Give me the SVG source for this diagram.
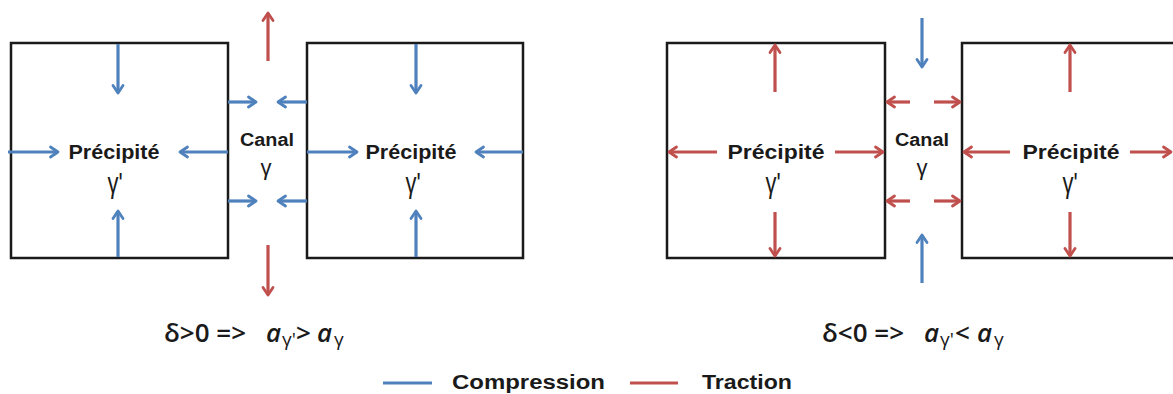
<svg xmlns="http://www.w3.org/2000/svg" width="1173" height="394" viewBox="0 0 1173 394">
<defs>
<style>
.box{fill:#fff;stroke:#1a1a1a;stroke-width:2.5}
.b{stroke:#4F81BD;stroke-width:3.2;fill:none}
.r{stroke:#C0504D;stroke-width:3.2;fill:none}
.ab{marker-end:url(#hb)}
.ar{marker-end:url(#hr)}
.lbl{font-family:"Liberation Sans",Arial,sans-serif;font-weight:bold;fill:#1a1a1a}
.gam{font-family:"Liberation Sans",Arial,sans-serif;fill:#1a1a1a}
.f{font-family:"Open Sans","Noto Sans",sans-serif;font-weight:600;fill:#1a1a1a;font-size:26px}
.sub{font-size:19px;font-weight:400}
</style>
<marker id="hb" viewBox="0 0 14 14" refX="11" refY="7" markerWidth="14" markerHeight="14" markerUnits="userSpaceOnUse" orient="auto">
<path d="M3.5,2 L11,7 L3.5,12" fill="none" stroke="#4F81BD" stroke-width="2.8" stroke-linecap="round" stroke-linejoin="round"/>
</marker>
<marker id="hr" viewBox="0 0 14 14" refX="11" refY="7" markerWidth="14" markerHeight="14" markerUnits="userSpaceOnUse" orient="auto">
<path d="M3.5,2 L11,7 L3.5,12" fill="none" stroke="#C0504D" stroke-width="2.8" stroke-linecap="round" stroke-linejoin="round"/>
</marker>
</defs>
<rect width="1173" height="394" fill="#fff"/>

<g id="box1">
<rect class="box" x="11" y="43" width="217" height="215"/>
<text class="lbl" x="114" y="159" font-size="20" text-anchor="middle" textLength="91" lengthAdjust="spacingAndGlyphs">Précipité</text>
<text class="gam" transform="translate(115,193) scale(1,1.3)" font-size="22" text-anchor="middle">γ'</text>
</g>
<g id="box2">
<rect class="box" x="307" y="43" width="216" height="215"/>
<text class="lbl" x="411" y="159" font-size="20" text-anchor="middle" textLength="91" lengthAdjust="spacingAndGlyphs">Précipité</text>
<text class="gam" transform="translate(413,193) scale(1,1.3)" font-size="22" text-anchor="middle">γ'</text>
</g>
<g id="canal1">
<text class="lbl" x="267" y="146" font-size="18" text-anchor="middle" textLength="54" lengthAdjust="spacingAndGlyphs">Canal</text>
<text class="gam" x="266" y="175" font-size="22" text-anchor="middle">γ</text>
</g>
<g id="box3">
<rect class="box" x="667" y="43" width="218" height="215"/>
<text class="lbl" x="776" y="159" font-size="20" text-anchor="middle" textLength="97" lengthAdjust="spacingAndGlyphs">Précipité</text>
<text class="gam" transform="translate(773,193) scale(1,1.3)" font-size="22" text-anchor="middle">γ'</text>
</g>
<g id="box4">
<rect class="box" x="962" y="43" width="218" height="215"/>
<text class="lbl" x="1071" y="159" font-size="20" text-anchor="middle" textLength="97" lengthAdjust="spacingAndGlyphs">Précipité</text>
<text class="gam" transform="translate(1070,193) scale(1,1.3)" font-size="22" text-anchor="middle">γ'</text>
</g>
<g id="canal2">
<text class="lbl" x="922" y="146" font-size="18" text-anchor="middle" textLength="54" lengthAdjust="spacingAndGlyphs">Canal</text>
<text class="gam" x="922" y="175" font-size="22" text-anchor="middle">γ</text>
</g>

<g id="connectors">
<line class="b ab" x1="118" y1="44" x2="118" y2="93"/>
<line class="b ab" x1="118" y1="257" x2="118" y2="211"/>
<line class="b ab" x1="8" y1="152" x2="58" y2="152"/>
<line class="b ab" x1="228" y1="152" x2="180" y2="152"/>
<line class="b ab" x1="416" y1="44" x2="416" y2="93"/>
<line class="b ab" x1="416" y1="257" x2="416" y2="211"/>
<line class="b ab" x1="307" y1="152" x2="357" y2="152"/>
<line class="b ab" x1="523" y1="152" x2="476" y2="152"/>
<line class="b ab" x1="228" y1="102" x2="256" y2="102"/>
<line class="b ab" x1="307" y1="102" x2="278" y2="102"/>
<line class="b ab" x1="228" y1="201" x2="256" y2="201"/>
<line class="b ab" x1="307" y1="201" x2="278" y2="201"/>
<line class="r ar" x1="268" y1="61" x2="268" y2="13"/>
<line class="r ar" x1="268" y1="245" x2="268" y2="295"/>
<line class="r ar" x1="775" y1="92" x2="775" y2="45"/>
<line class="r ar" x1="775" y1="212" x2="775" y2="256"/>
<line class="r ar" x1="717" y1="152" x2="669" y2="152"/>
<line class="r ar" x1="835" y1="152" x2="883" y2="152"/>
<line class="r ar" x1="1070" y1="92" x2="1070" y2="45"/>
<line class="r ar" x1="1070" y1="212" x2="1070" y2="256"/>
<line class="r ar" x1="1010" y1="152" x2="964" y2="152"/>
<line class="r ar" x1="1130" y1="152" x2="1171" y2="152"/>
<line class="r ar" x1="910" y1="102" x2="887" y2="102"/>
<line class="r ar" x1="934" y1="102" x2="960" y2="102"/>
<line class="r ar" x1="910" y1="201" x2="887" y2="201"/>
<line class="r ar" x1="934" y1="201" x2="960" y2="201"/>
<line class="b ab" x1="922" y1="18" x2="922" y2="67"/>
<line class="b ab" x1="922" y1="283" x2="922" y2="235"/>
</g>

<g id="formula1">
<text class="f" y="342"><tspan x="164">δ&gt;0 =&gt;</tspan><tspan x="266" font-style="italic">a</tspan><tspan class="sub" x="282" y="346">γ'</tspan><tspan x="296" y="342">&gt;</tspan><tspan x="317" font-style="italic">a</tspan><tspan class="sub" x="334" y="346">γ</tspan></text>
</g>
<g id="formula2">
<text class="f" y="342"><tspan x="822">δ&lt;0 =&gt;</tspan><tspan x="924" font-style="italic">a</tspan><tspan class="sub" x="940" y="346">γ'</tspan><tspan x="955" y="342">&lt;</tspan><tspan x="977" font-style="italic">a</tspan><tspan class="sub" x="994" y="346">γ</tspan></text>
</g>

<g id="legend">
<line x1="383" y1="383" x2="432" y2="383" stroke="#4F81BD" stroke-width="3"/>
<text class="lbl" x="452" y="389" font-size="20" textLength="153" lengthAdjust="spacingAndGlyphs">Compression</text>
<line x1="630" y1="383" x2="678" y2="383" stroke="#C0504D" stroke-width="3"/>
<text class="lbl" x="702" y="389" font-size="20" textLength="90" lengthAdjust="spacingAndGlyphs">Traction</text>
</g>
</svg>
